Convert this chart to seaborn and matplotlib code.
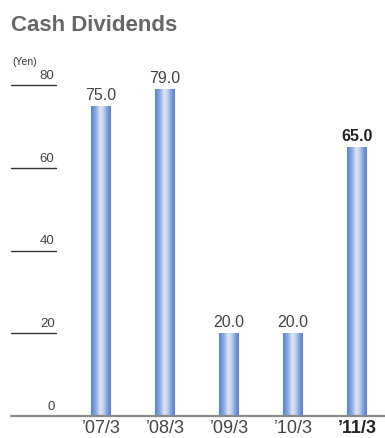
import numpy as np
import pandas as pd
import matplotlib
matplotlib.use("Agg")
import matplotlib.pyplot as plt
import seaborn as sns
from matplotlib.colors import LinearSegmentedColormap

# Fiscal years and cash dividends per share (yen)
years = ["\u201907/3", "\u201908/3", "\u201909/3", "\u201910/3", "\u201911/3"]
dividends = [75.0, 79.0, 20.0, 20.0, 65.0]
y_ticks = [0, 20, 40, 60, 80]

df = pd.DataFrame({"year": years, "dividend": dividends})

sns.set_theme(style="white")
plt.rcParams["font.family"] = ["Liberation Sans", "DejaVu Sans"]

W, H = 385, 439
fig = plt.figure(figsize=(W / 100, H / 100), dpi=100)
ax_left, ax_right = 11, 385
ax_top, ax_bottom = 86, 417
ax = fig.add_axes([ax_left / W, (H - ax_bottom) / H,
                   (ax_right - ax_left) / W, (ax_bottom - ax_top) / H])

sns.barplot(data=df, x="year", y="dividend", ax=ax, width=0.3125,
            color="#5b88cc", saturation=1, edgecolor="none")

# horizontal cylinder-like shading for each bar
cmap = LinearSegmentedColormap.from_list(
    "bar_shade", [(0.0, "#5282cb"), (0.25, "#8eacdd"), (0.47, "#dfe7f6"),
                  (0.62, "#c4d3ee"), (0.85, "#7499d4"), (1.0, "#5282cb")])
grad = np.linspace(0, 1, 256).reshape(1, -1)
for p in ax.patches:
    x0, w, h = p.get_x(), p.get_width(), p.get_height()
    im = ax.imshow(grad, cmap=cmap, extent=[x0, x0 + w, 0, h],
                   aspect="auto", zorder=3, interpolation="bicubic")
    im.set_clip_path(p)

# x range: axes from pixel 11 to 385, bar centres every 64 px starting at 101
ax.set_xlim((ax_left - 101) / 64, (ax_right - 101) / 64)
ax.set_ylim(0, 80)

for s in ax.spines.values():
    s.set_visible(False)
ax.set_xticks([])
ax.set_yticks([])
ax.set_xlabel("")
ax.set_ylabel("")

# baseline
ax.axhline(0, color="#8a8a8a", lw=1.6, zorder=4, clip_on=False)

# short gridline stubs with labels on the left
ytf = ax.get_yaxis_transform()
stub = (56 - ax_left) / (ax_right - ax_left)
for t in y_ticks:
    if t != 0:
        ax.plot([0, stub], [t, t], color="#333333", lw=1.0, transform=ytf,
                clip_on=False)
    ax.annotate(f"{t}", xy=(stub, t), xycoords=ytf, xytext=(-1, 3),
                textcoords="offset points", ha="right", va="bottom",
                fontsize=9.5, color="#444444")

ax.annotate("(Yen)", xy=(0, 80), xycoords=ytf, xytext=(1, 14),
            textcoords="offset points", ha="left", va="bottom",
            fontsize=7.5, color="#333333")

# value labels and category labels
for i, (yr, v) in enumerate(zip(years, dividends)):
    last = i == len(years) - 1
    ax.annotate(f"{v:.1f}", xy=(i, v), xytext=(0, 3),
                textcoords="offset points", ha="center", va="bottom",
                fontsize=11.5, color="#222222" if last else "#444444",
                fontweight="bold" if last else "normal")
    ax.annotate(yr, xy=(i, 0), xytext=(0, -2), textcoords="offset points",
                ha="center", va="top", fontsize=13,
                color="#222222" if last else "#444444",
                fontweight="bold" if last else "normal")

fig.text(11 / W, 1 - 15 / H, "Cash Dividends", ha="left", va="top",
         fontsize=16, fontweight="bold", color="#666666")

fig.savefig("out.png", dpi=100, facecolor="white")
